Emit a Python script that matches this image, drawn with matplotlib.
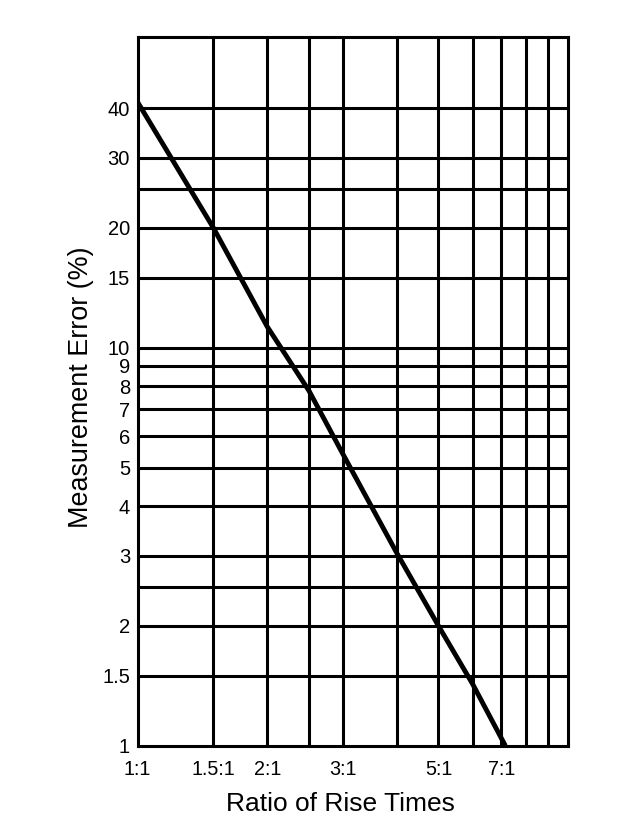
import matplotlib.pyplot as plt
from matplotlib.ticker import FixedLocator, NullLocator

# values
ratio = [1.0, 1.5, 2.0, 2.5, 3.0, 4.0, 5.0, 6.0, 7.15]
error_pct = [41.4, 20.0, 11.3, 7.8, 5.4, 3.05, 2.0, 1.43, 1.0]

x_grid = [1.5, 2, 2.5, 3, 4, 5, 6, 7, 8, 9]
y_grid = [1.5, 2, 2.5, 3, 4, 5, 6, 7, 8, 9, 10, 15, 20, 25, 30, 40]

x_ticks = [1, 1.5, 2, 3, 5, 7]
x_labels = ["1:1", "1.5:1", "2:1", "3:1", "5:1", "7:1"]
y_ticks = [1, 1.5, 2, 3, 4, 5, 6, 7, 8, 9, 10, 15, 20, 30, 40]
y_labels = ["1", "1.5", "2", "3", "4", "5", "6", "7", "8", "9", "10", "15", "20", "30", "40"]

plt.rcParams['font.family'] = ['Liberation Sans', 'DejaVu Sans']

fig = plt.figure(figsize=(6.38, 8.30), dpi=100)
ax = fig.add_axes([0.2158, 0.1016, 0.8903 - 0.2158, 0.9558 - 0.1016])
ax.set_xscale('log')
ax.set_yscale('log')
ax.set_xlim(1, 10)
ax.set_ylim(1, 60.5)

for gx in x_grid:
    ax.axvline(gx, color='black', lw=2.2, zorder=1)
for gy in y_grid:
    ax.axhline(gy, color='black', lw=2.2, zorder=1)

ax.plot(ratio, error_pct, color='black', lw=3.5, zorder=3, solid_capstyle='butt')

ax.xaxis.set_major_locator(FixedLocator(x_ticks))
ax.xaxis.set_minor_locator(NullLocator())
ax.set_xticklabels(x_labels)
ax.yaxis.set_major_locator(FixedLocator(y_ticks))
ax.yaxis.set_minor_locator(NullLocator())
ax.set_yticklabels(y_labels)
ax.tick_params(axis='x', length=0, labelsize=14.2, pad=10)
ax.tick_params(axis='y', length=0, labelsize=14.5, pad=5.5)

for s in ax.spines.values():
    s.set_linewidth(2.2)

ax.set_xlabel("Ratio of Rise Times", fontsize=19)
ax.set_ylabel("Measurement Error (%)", fontsize=19.4)
ax.xaxis.set_label_coords(0.472, -0.0653)
ax.yaxis.set_label_coords(-0.1004, 0.506)

fig.savefig("out.png", dpi=100)
